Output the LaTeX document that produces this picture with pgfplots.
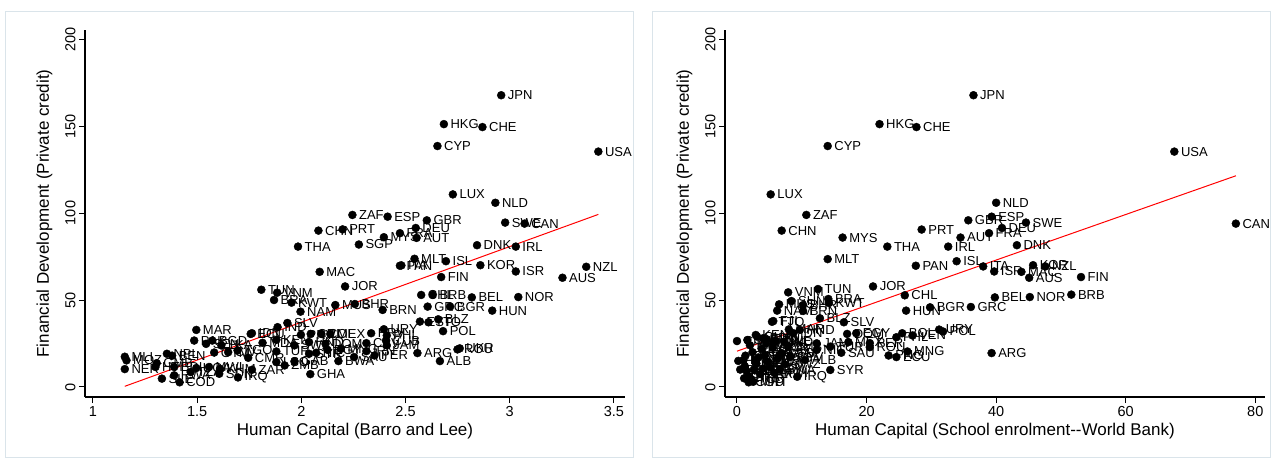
\documentclass[border=0pt]{standalone}
\usepackage{fontspec}
\setmainfont{Liberation Sans}
\usepackage{pgfplots}
\usepackage{pgfplotstable}
\pgfplotsset{compat=1.18}

% Left panel: Barro-Lee human capital vs private credit
\pgfplotstableread{
lab x y
JPN 2.959 167.7
HKG 2.684 151.1
CHE 2.869 149.4
CYP 2.653 138.5
USA 3.425 135.3
LUX 2.727 110.7
NLD 2.931 105.9
ZAF 2.245 98.9
ESP 2.414 97.9
GBR 2.602 95.8
SWE 2.978 94.5
CAN 3.071 93.9
CHN 2.082 89.9
PRT 2.198 90.6
DEU 2.549 91.4
FRA 2.473 88.4
MYS 2.396 86.1
AUT 2.553 85.7
SGP 2.276 81.9
THA 1.984 80.7
DNK 2.843 81.5
IRL 3.029 80.7
MLT 2.543 73.7
ISL 2.694 72.3
ITA 2.480 69.9
PAN 2.473 69.7
KOR 2.859 70.0
NZL 3.367 69.1
ISR 3.029 66.4
MAC 2.088 66.2
FIN 2.671 63.2
AUS 3.253 62.8
JOR 2.210 57.8
TUN 1.808 55.9
VNM 1.884 54.2
BRA 1.869 50.0
KWT 1.953 48.5
MUS 2.163 47.1
BHR 2.257 47.7
NAM 1.996 43.3
BRN 2.390 44.3
CHL 2.575 52.9
BRB 2.631 53.1
BEL 2.818 51.5
NOR 3.041 51.7
GRC 2.606 46.2
BGR 2.714 46.2
HUN 2.916 43.9
EST 2.569 37.6
TTO 2.610 37.2
BLZ 2.657 38.9
POL 2.680 32.1
URY 2.396 33.2
HRV 2.335 30.9
PHL 2.410 29.6
MAR 1.496 32.8
IDN 1.763 30.9
ECU 1.757 30.5
IND 1.886 34.4
SLV 1.933 36.8
PRY 1.998 30.0
CRI 2.045 30.5
COL 2.096 30.5
MEX 2.139 30.5
PAK 1.486 26.7
SEN 1.543 24.8
BGD 1.573 26.7
LKA 1.616 23.9
MDA 1.814 25.4
KEN 1.880 27.1
HND 2.037 25.8
SWZ 1.967 23.9
DOM 2.116 24.8
CPV 2.312 25.2
CUB 2.406 26.7
JAM 2.410 23.9
NPL 1.355 19.1
BEN 1.380 18.0
GTM 1.582 19.8
CIV 1.649 20.0
TGO 1.694 21.0
TUR 1.880 20.4
SYR 2.037 19.1
NIC 2.071 19.7
EGY 2.125 21.4
MNG 2.190 21.9
IRN 2.312 20.6
PER 2.351 18.1
SAU 2.253 17.2
CMR 1.745 16.8
GMB 1.306 13.7
HTI 1.300 11.5
BDI 1.390 11.5
UGA 1.496 10.9
MWI 1.557 11.5
KHM 1.610 10.5
LSO 1.880 14.3
ZMB 1.920 12.4
GAB 1.967 14.7
BWA 2.178 14.9
SLE 1.331 4.8
RWA 1.390 6.7
TZA 1.469 8.6
SDN 1.606 7.6
ZAR 1.763 9.9
IRQ 1.696 5.5
COD 1.416 2.7
GHA 2.043 7.4
MLI 1.153 17.4
MOZ 1.161 15.3
NER 1.153 10.3
ARG 2.557 19.5
ALB 2.665 14.9
ROU 2.749 21.6
UKR 2.760 22.2
}\leftdata

% Right panel: school enrolment vs private credit
\pgfplotstableread{
lab x y
JPN 36.5 167.7
HKG 22.0 151.1
CHE 27.7 149.4
CYP 14.0 138.5
USA 67.5 135.3
LUX 5.2 110.7
ZAF 10.7 98.9
CHN 6.9 89.9
MYS 16.3 85.9
THA 23.2 80.7
MLT 14.0 73.5
PRT 28.5 90.5
AUT 34.5 85.9
IRL 32.6 80.7
GBR 35.7 95.8
ESP 39.3 97.9
NLD 40.0 105.9
DEU 40.9 91.4
FRA 38.9 88.4
SWE 44.6 94.5
DNK 43.2 81.5
CAN 77.0 93.9
PAN 27.6 69.7
ISL 33.9 72.3
ITA 38.0 69.3
ISR 39.7 66.4
MAC 43.9 66.2
KOR 45.7 70.0
NZL 47.6 69.3
AUS 45.1 62.8
FIN 53.1 63.2
BRB 51.6 53.1
BEL 39.8 51.5
NOR 45.2 51.7
GRC 36.1 46.0
BGR 29.8 45.8
HUN 26.1 43.9
CHL 25.9 52.7
JOR 21.0 57.8
TUN 12.5 56.3
VNM 7.9 54.4
BRA 14.1 50.6
KWT 14.2 48.3
MUS 6.5 47.5
SHN 8.4 49.4
BHR 10.2 47.1
NAM 6.2 43.9
BRN 10.2 43.7
TTO 5.4 37.5
FJI 5.6 37.9
BLZ 12.8 39.5
SLV 16.5 37.2
HND 9.7 32.8
IDN 8.7 30.9
MAR 8.0 33.1
DOM 17.0 30.5
EGY 18.4 30.9
BOL 25.5 30.9
PHL 24.6 28.6
VEN 27.1 29.6
URY 31.2 33.0
POL 31.8 31.9
IND 7.3 25.8
JAM 12.3 25.1
MEX 17.2 25.8
PER 20.5 25.2
ROU 20.5 22.9
TUR 14.4 23.2
NIC 12.3 21.3
SAU 16.1 19.7
MNG 26.3 20.4
PNG 23.4 18.1
ECU 24.6 17.2
GTM 6.8 19.1
ARG 39.3 19.5
ALB 10.5 15.5
SYR 14.4 9.8
IRQ 9.3 5.9
COD 1.8 2.7
CIV 0.0 26.4
KEN 2.9 29.9
SEN 4.6 27.4
PAK 5.6 25.1
MOZ 1.0 15.5
NER 1.2 12.0
MLI 1.5 9.0
BFA 1.8 6.0
TCD 2.2 4.5
ETH 1.1 5.0
NPL 2.6 10.0
BEN 3.0 13.5
GMB 3.3 17.0
BGD 2.4 20.0
KHM 2.0 24.0
LKA 3.8 22.0
RWA 4.3 18.5
UGA 4.8 14.5
TZA 5.2 11.0
MWI 5.8 8.0
ZAR 3.6 7.5
CAF 4.0 10.5
TGO 6.3 16.5
LSO 6.9 19.5
SWZ 7.4 13.0
CMR 5.5 22.5
ZWE 6.0 26.5
ZMB 7.9 23.0
GHA 3.1 29.0
SDN 4.0 28.0
SLE 1.6 27.0
HTI 0.2 15.0
BDI 0.5 10.0
GAB 2.9 15.5
MDA 4.5 25.0
BWA 6.6 10.0
CPV 8.2 17.5
GIN 1.3 18.0
MRT 2.5 3.0
}\rightdata

\definecolor{framecol}{RGB}{218,228,234}

\pgfplotsset{
  statapanel/.style={
    scale only axis, width=540pt, height=367pt,
    axis x line*=bottom, axis y line*=left,
    axis line style={line width=2.4pt, -, black},
    every tick/.style={black, line width=1pt},
    tick align=outside, major tick length=6pt,
    ymin=-5.75, ymax=205.2, ytick={0,50,100,150,200},
    /pgf/number format/assume math mode=true,
    yticklabel style={rotate=90, anchor=south, font=\fontsize{14.5}{14.5}\selectfont},
    xticklabel style={font=\fontsize{14.5}{14.5}\selectfont},
    label style={font=\fontsize{17}{17}\selectfont},
    ylabel={Financial Development (Private credit)},
    ylabel shift=6pt,
    clip=false,
  },
  labpts/.style={only marks, mark=*, mark size=4pt, black,
    nodes near coords, point meta=explicit symbolic,
    every node near coord/.append style={anchor=west,
      font=\fontsize{13}{13}\selectfont, inner sep=0pt, xshift=6.5pt, text=black}},
}

\begin{document}
\begin{tikzpicture}
\path[use as bounding box] (0pt,0pt) rectangle (1273pt,463pt);
\draw[framecol, line width=1pt] (5pt,6pt) rectangle (633pt,451pt);
\draw[framecol, line width=1pt] (652pt,6pt) rectangle (1270pt,451pt);

\begin{axis}[statapanel, at={(85pt,66pt)}, anchor=south west,
  xmin=0.962, xmax=3.553, xtick={1,1.5,2,2.5,3,3.5},
  xlabel={Human Capital (Barro and Lee)}]
\addplot[labpts] table[x=x, y=y, meta=lab] {\leftdata};
\addplot[red, line width=1pt] coordinates {(1.153,0.4) (3.425,99.2)};
\end{axis}

\begin{axis}[statapanel, at={(725pt,66pt)}, anchor=south west,
  xmin=-1.85, xmax=81.5, xtick={0,20,40,60,80},
  xlabel={Human Capital (School enrolment-{}-World Bank)}]
\addplot[labpts] table[x=x, y=y, meta=lab] {\rightdata};
\addplot[red, line width=1pt] coordinates {(0,20.6) (77.0,121.4)};
\end{axis}
\end{tikzpicture}
\end{document}
